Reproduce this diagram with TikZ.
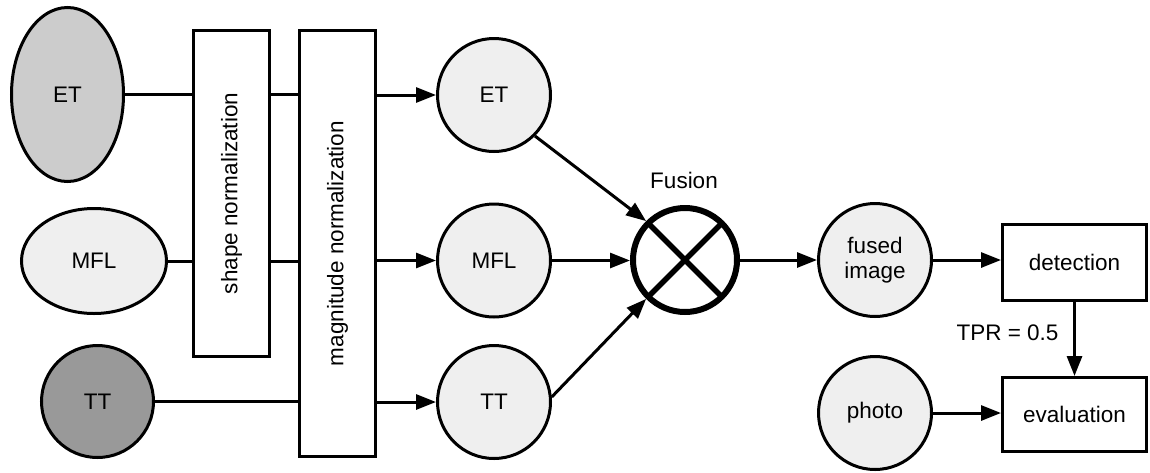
\documentclass[tikz,border=0pt]{standalone}
\usepackage{fontspec}
\setmainfont{Liberation Sans}
\usetikzlibrary{shapes.geometric,arrows.meta,calc}
\definecolor{gA}{HTML}{CCCCCC}
\definecolor{gB}{HTML}{EFEFEF}
\definecolor{gC}{HTML}{999999}
\begin{document}
\begin{tikzpicture}[x=1pt,y=-1pt,
  every node/.style={font=\fontsize{22.5}{25}\selectfont},
  ell/.style={ellipse,draw,line width=3pt,inner sep=0pt},
  circ/.style={circle,draw,line width=3pt,inner sep=0pt,minimum size=113pt,fill=gB,align=center},
  bar/.style={rectangle,draw,line width=3pt,inner sep=0pt,minimum width=76pt},
  box/.style={rectangle,draw,line width=3pt,inner sep=0pt,minimum width=144pt},
  conn/.style={line width=3pt},
  arr/.style={line width=3pt,-{Triangle[length=20pt,width=15pt]}}]
\useasboundingbox (0,0) rectangle (1150,472);
% inputs
\node[ell,fill=gA,minimum width=112pt,minimum height=174pt] (etL) at (67.5,94.5) {ET};
\node[ell,fill=gB,minimum width=145pt,minimum height=105pt] (mflL) at (94,261) {MFL};
\node[circ,fill=gC,minimum size=112pt] (ttL) at (97.5,401.5) {TT};
% normalization bars
\node[bar,minimum height=326pt] (shape) at (231.5,193.5) {};
\node[rotate=90] at (shape.center) {shape normalization};
\node[bar,minimum height=426pt] (mag) at (337.5,243.5) {};
\node[rotate=90] at (mag.center) {magnitude normalization};
% normalized
\node[circ] (etC) at (494,95) {ET};
\node[circ] (mflC) at (494,260.5) {MFL};
\node[circ] (ttC) at (494,402) {TT};
% fusion
\node[circle,draw,line width=6pt,minimum size=104pt,inner sep=0pt,fill=white] (fus) at (685,260) {};
\draw[line width=5.5pt] ($(fus.center)+(45:52pt)$) -- ($(fus.center)+(225:52pt)$);
\draw[line width=5.5pt] ($(fus.center)+(135:52pt)$) -- ($(fus.center)+(-45:52pt)$);
\node (fuslab) at (684,180) {Fusion};
% right part
\node[circ] (fused) at (875,260) {fused\\image};
\node[circ] (photo) at (875,413) {photo};
\node[box,minimum height=76pt] (det) at (1074.5,262.5) {detection};
\node[box,minimum height=74pt] (eval) at (1074.5,414.5) {evaluation};
% connectors
\draw[conn] (etL.east) -- (etL.east -| shape.west);
\draw[conn] (mflL.east) -- (mflL.east -| shape.west);
\draw[conn] (etL.east -| shape.east) -- (etL.east -| mag.west);
\draw[conn] (mflL.east -| shape.east) -- (mflL.east -| mag.west);
\draw[conn] (ttL.east) -- (ttL.east -| mag.west);
\draw[arr] (etC.west -| mag.east) -- (etC.west);
\draw[arr] (mflC.west -| mag.east) -- (mflC.west);
\draw[arr] (ttC.west -| mag.east) -- (ttC.west);
\draw[arr] (etC.-45) -- (fus.135);
\draw[arr] (mflC.east) -- (mflC.east -| fus.west);
\draw[arr] (ttC.5) -- (fus.-135);
\draw[arr] (fus.east) -- (fused.west);
\draw[arr] (fused.east) -- (fused.east -| det.west);
\draw[arr] (photo.east) -- (photo.east -| eval.west);
\draw[arr] (det.south) -- (eval.north);
\node[anchor=east] (tpr) at (1062,333) {TPR = 0.5};
\end{tikzpicture}
\end{document}
